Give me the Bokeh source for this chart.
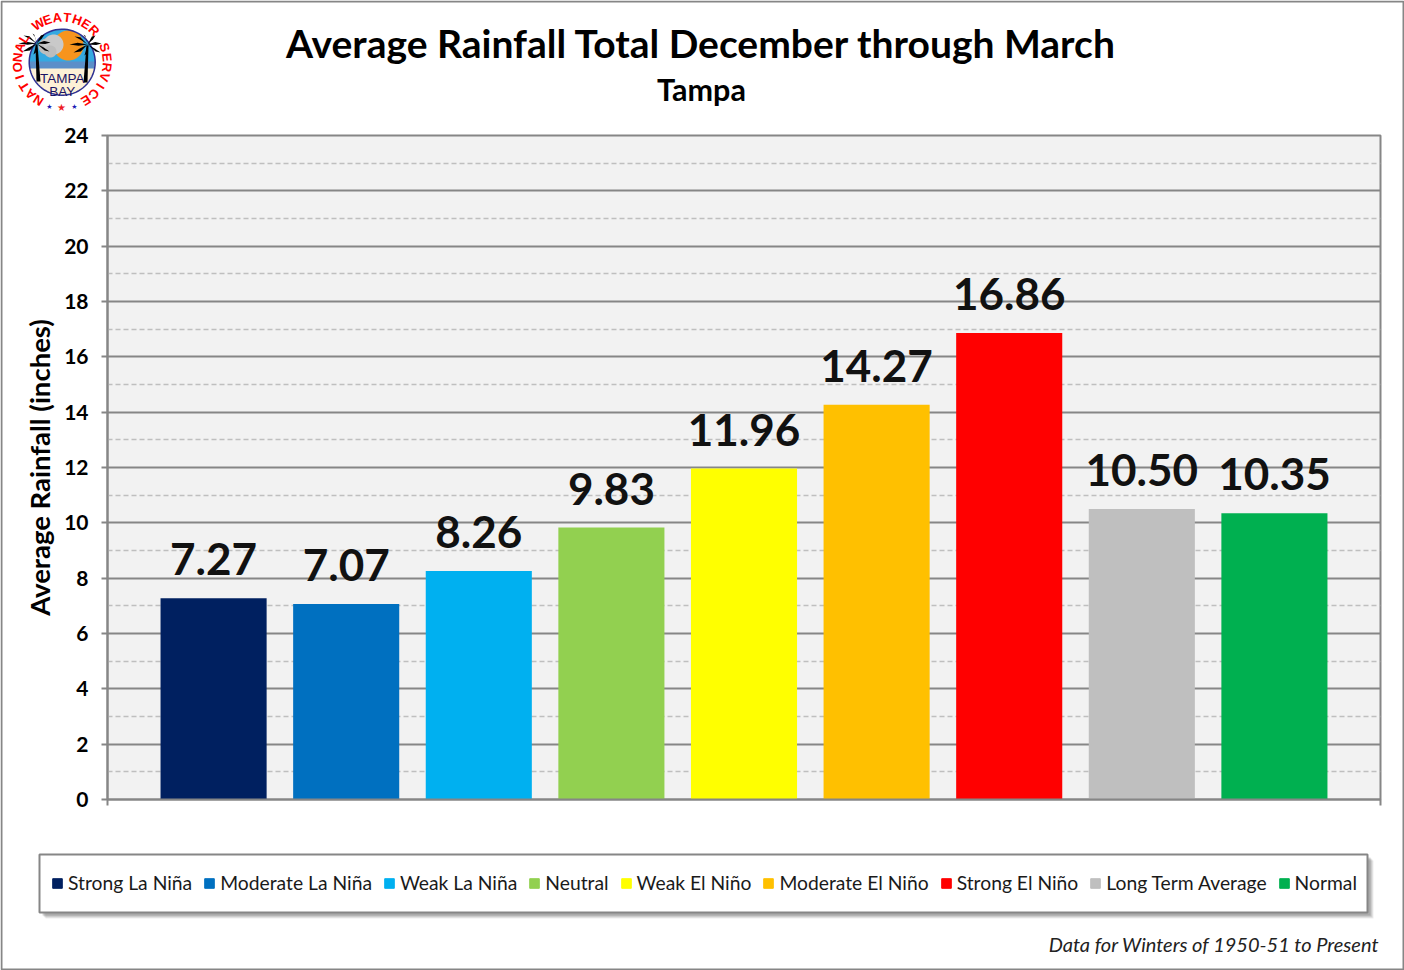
import numpy as np
from bokeh.plotting import figure
from bokeh.embed import file_html
from bokeh.resources import INLINE
from bokeh.core.properties import value
from bokeh.models import (ColumnDataSource, FixedTicker, Label, LabelSet, Legend, LegendItem,
                          BoxAnnotation, PolyAnnotation, Range1d)

categories = ["Strong La Niña", "Moderate La Niña", "Weak La Niña", "Neutral", "Weak El Niño",
              "Moderate El Niño", "Strong El Niño", "Long Term Average", "Normal"]
rainfall = [7.27, 7.07, 8.26, 9.83, 11.96, 14.27, 16.86, 10.50, 10.35]
colors = ["#002060", "#0070C0", "#00B0F0", "#92D050", "#FFFF00", "#FFC000", "#FF0000", "#BFBFBF", "#00B050"]
major_ticks = [0, 2, 4, 6, 8, 10, 12, 14, 16, 18, 20, 22, 24]
minor_ticks = [1, 3, 5, 7, 9, 11, 13, 15, 17, 19, 21, 23]

FONT = "Lato"
GRAY = "#868686"

source = ColumnDataSource(dict(
    x=list(range(1, len(rainfall) + 1)),
    y=rainfall,
    color=colors,
    name=categories,
    label=[f"{v:.2f}" for v in rainfall],
))

# ---- page figure: frame covers the whole canvas, holds everything around the chart
o = figure(width=1404, height=970, output_backend="svg", toolbar_location=None,
           x_range=Range1d(1000, 2404), y_range=Range1d(1000, 1024),
           x_axis_type=None, y_axis_type=None,
           min_border=0, min_border_left=0, min_border_right=0, min_border_top=0, min_border_bottom=0,
           background_fill_color="white", border_fill_color="white", outline_line_color=None)
o.xgrid.visible = False
o.ygrid.visible = False
legend_bars = o.vbar(x="x", top="y", width=0.8, color="color", source=source)


def text(s, x, y, size, style="normal", color="black", align="center", baseline="alphabetic",
         angle=0.0, font=FONT):
    o.add_layout(Label(x=x, y=y, x_units="canvas", y_units="canvas", text=s, text_font=font,
                       text_font_size=size, text_font_style=style, text_color=color,
                       text_align=align, text_baseline=baseline, angle=angle))


def poly(xs, ys, fill, line=None, lw=1.0):
    o.add_layout(PolyAnnotation(xs=[float(v) for v in xs], ys=[float(v) for v in ys],
                                xs_units="canvas", ys_units="canvas",
                                fill_color=fill, fill_alpha=1.0 if fill else 0,
                                line_color=line, line_width=lw, line_alpha=1.0 if line else 0))


def box(l, t, r_, b, fill=None, alpha=1.0, line=None, lw=1.0):
    o.add_layout(BoxAnnotation(left=l, right=r_, top=t, bottom=b,
                               left_units="canvas", right_units="canvas",
                               top_units="canvas", bottom_units="canvas",
                               fill_color=fill, fill_alpha=alpha if fill else 0,
                               line_color=line, line_width=lw, line_alpha=1.0 if line else 0))


box(1, 1, 1403, 969, line=GRAY, lw=2)

text("Average Rainfall Total December through March", 701, 42, "39px", "bold")
text("Tampa", 701, 88, "30.5px", "bold")
text("Data for Winters of 1950-51 to Present", 1379, 943, "20px", "italic", "#222222", align="right")

for off, a in ((6, 0.12), (5, 0.15), (4, 0.2), (3, 0.25)):
    box(39 + off, 854 + off, 1367 + off, 912 + off, fill="#666666", alpha=a)
box(39, 854, 1367, 912, fill="white", line=GRAY, lw=2)

items = [LegendItem(label=c, renderers=[legend_bars], index=i) for i, c in enumerate(categories)]
legend = Legend(items=items, orientation="horizontal", location=(51, 76),
                background_fill_alpha=0, border_line_alpha=0,
                label_text_font=FONT, label_text_font_size="19.3px", label_text_color="#1a1a1a",
                glyph_width=12, glyph_height=12, label_standoff=5, spacing=11, padding=0, margin=0)
o.add_layout(legend, "center")

# logo
cx, cy = 61.7, 61.7
t = np.linspace(0, 2 * np.pi, 72)


def disc(x0, y0, rad, fill, line=None, lw=1.0):
    poly(x0 + rad * np.cos(t), y0 + rad * np.sin(t), fill, line, lw)


disc(cx, cy, 33, "#FDF1D6")
top = np.linspace(np.pi, 2 * np.pi, 40)
poly(cx + 33 * np.cos(top), cy + 33 * np.sin(top), "#35A9E1")
poly([cx - 33, cx + 33, cx + 32, cx - 32], [61, 61, 68, 68], "#5B8FC9")
disc(68, 45, 15, "#F7941D")
disc(46, 46, 8, "#BDBDBD")
disc(53, 44, 10, "#C9C9C9")
disc(50, 51, 6, "#BDBDBD")
poly(cx + 33 * np.cos(t), cy + 33 * np.sin(t), None, "#2E3192", 1.5)


def palm(bx, by, tx, ty):
    poly([bx - 2, bx + 2, tx + 1, tx - 1], [by, by, ty, ty], "black")
    for dx, dy in ((-18, -1), (-13, -9), (-4, -11), (8, -10), (14, -2), (-14, 7), (13, 7), (-3, 10)):
        mx, my = tx + dx * 0.55, ty + dy * 0.7 - 2
        poly([tx, mx, tx + dx, mx + 1], [ty - 1, my, ty + dy, my + 3], "black")


palm(38, 81, 36, 44)
palm(85, 82, 87, 45)
text("TAMPA", cx, 78, "13.5px", color="#1B1464", font="Liberation Sans")
text("BAY", cx, 91, "13.5px", color="#1B1464", font="Liberation Sans")

ring = "NATIONAL WEATHER SERVICE"
angles = np.linspace(-148, 148, len(ring))
for ch, a in zip(ring, angles):
    if ch == " ":
        continue
    rad = np.deg2rad(a)
    text(ch, float(cx + 45 * np.sin(rad)), float(cy - 45 * np.cos(rad)), "13px", "bold", "#FF0000",
         baseline="middle", angle=float(-rad), font="Liberation Sans")
text("★", 49, 106, "7px", color="#1B1BB5", baseline="middle", font="DejaVu Sans")
text("★", 61, 107, "10px", color="#EE1C25", baseline="middle", font="DejaVu Sans")
text("★", 74, 106, "7px", color="#1B1BB5", baseline="middle", font="DejaVu Sans")

# ---- chart figure, laid over the page figure
p = figure(width=1404, height=970, output_backend="svg", toolbar_location=None,
           x_range=Range1d(0.2, 9.8), y_range=Range1d(0, 24),
           min_border_left=107, min_border_right=24, min_border_top=135, min_border_bottom=171,
           background_fill_color="#F2F2F2", border_fill_color=None, margin=(-970, 0, 0, 0))
p.outline_line_color = GRAY
p.outline_line_width = 2

p.vbar(x="x", top="y", width=0.8, fill_color="color", line_color=None, source=source)

p.xaxis.ticker = FixedTicker(ticks=[0.2, 9.8])
p.xaxis.major_label_overrides = {0.2: "", 9.8: ""}
p.xaxis.major_tick_in = 0
p.xaxis.major_tick_out = 6
p.xaxis.minor_tick_line_color = None
p.xaxis.axis_line_color = GRAY
p.xaxis.axis_line_width = 2
p.xaxis.major_tick_line_color = GRAY
p.xaxis.major_tick_line_width = 2

p.yaxis.ticker = FixedTicker(ticks=major_ticks, minor_ticks=minor_ticks)
p.yaxis.major_label_text_font = FONT
p.yaxis.major_label_text_font_style = "bold"
p.yaxis.major_label_text_font_size = "21px"
p.yaxis.major_label_text_color = "black"
p.yaxis.major_label_standoff = 13
p.yaxis.major_tick_in = 0
p.yaxis.major_tick_out = 6
p.yaxis.minor_tick_out = 0
p.yaxis.minor_tick_in = 0
p.yaxis.axis_line_color = GRAY
p.yaxis.axis_line_width = 2
p.yaxis.major_tick_line_color = GRAY
p.yaxis.major_tick_line_width = 2
p.yaxis.axis_label = "Average Rainfall (inches)"
p.yaxis.axis_label_text_font = FONT
p.yaxis.axis_label_text_font_style = "bold"
p.yaxis.axis_label_text_font_size = "27.5px"
p.yaxis.axis_label_text_color = "black"
p.yaxis.axis_label_standoff = 5

p.xgrid.visible = False
p.ygrid.grid_line_color = GRAY
p.ygrid.grid_line_width = 2
p.ygrid.minor_grid_line_color = "#BFBFBF"
p.ygrid.minor_grid_line_width = 1.5
p.ygrid.minor_grid_line_dash = [5, 3]

p.add_layout(LabelSet(x="x", y="y", text="label", source=source, y_offset=23,
                      text_align="center", text_baseline="alphabetic",
                      text_font=value(FONT), text_font_style="bold", text_font_size="44px",
                      text_color="#111111"))

open("out.html", "w").write(file_html([o, p], INLINE))
